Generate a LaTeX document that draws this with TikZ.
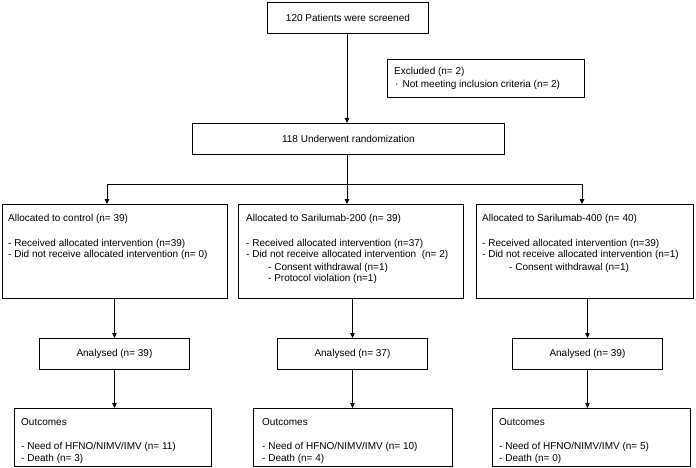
\documentclass[tikz,border=0pt]{standalone}
\usepackage{fontspec}
\setmainfont{Liberation Sans}
\usetikzlibrary{arrows.meta}
\begin{document}
\begin{tikzpicture}[x=1pt,y=-1pt,
  box/.style n args={2}{draw, line width=0.9pt, minimum width=#1, minimum height=#2,
    inner sep=0pt, anchor=north west, font=\fontsize{10}{12}\selectfont},
  txt/.style={anchor=base west, inner sep=0pt, font=\fontsize{10}{12}\selectfont},
  conn/.style={line width=0.9pt},
  arr/.style={line width=0.9pt, -{Triangle[length=5pt,width=4.5pt]}}]
\useasboundingbox (0,0) rectangle (696,468);

% top
\node[box={161}{31}] (screen) at (267,2) {120 Patients were screened};
\node[box={197}{38}] (excl) at (387,59) {};
\node[txt] (exa) at (394,74.5) {Excluded (n= 2)};
\node[txt] (exb) at (395,87.5) {·\hspace{4pt}Not meeting inclusion criteria (n= 2)};
\node[box={312}{31}] (rand) at (192,123) {118 Underwent randomization};

% allocation boxes
\node[box={225}{94}] (c1) at (2,204) {};
\node[box={225}{94}] (c2) at (238,204) {};
\node[box={217}{94}] (c3) at (476,204) {};

\node[txt] (c1h) at (8,221.5) {Allocated to control (n= 39)};
\node[txt] (c1a) at (8,246.5) {- Received allocated intervention (n=39)};
\node[txt] (c1b) at (8,257.5) {- Did not receive allocated intervention (n= 0)};

\node[txt] (c2h) at (246,221.5) {Allocated to Sarilumab-200 (n= 39)};
\node[txt] (c2a) at (246,246.5) {- Received allocated intervention (n=37)};
\node[txt] (c2b) at (246,257.5) {- Did not receive allocated intervention\ \ (n= 2)};
\node[txt] (c2c) at (268,270.5) {- Consent withdrawal (n=1)};
\node[txt] (c2d) at (268,281.5) {- Protocol violation (n=1)};

\node[txt] (c3h) at (482,221.5) {Allocated to Sarilumab-400 (n= 40)};
\node[txt] (c3a) at (482,246.5) {- Received allocated intervention (n=39)};
\node[txt] (c3b) at (482,257.5) {- Did not receive allocated intervention (n=1)};
\node[txt] (c3c) at (509,270.5) {- Consent withdrawal (n=1)};

% analysed
\node[box={150}{31}] (a1) at (39,338) {Analysed (n= 39)};
\node[box={150}{31}] (a2) at (277,338) {Analysed (n= 37)};
\node[box={150}{31}] (a3) at (512,338) {Analysed (n= 39)};

% outcomes
\node[box={197}{58}] (o1) at (14,408) {};
\node[box={199}{58}] (o2) at (253,408) {};
\node[box={198}{58}] (o3) at (492,408) {};

\node[txt] (o1h) at (21,425.5) {Outcomes};
\node[txt] (o1a) at (21,449.5) {- Need of HFNO/NIMV/IMV (n= 11)};
\node[txt] (o1b) at (21,461.5) {- Death (n= 3)};

\node[txt] (o2h) at (262,425.5) {Outcomes};
\node[txt] (o2a) at (262,449.5) {- Need of HFNO/NIMV/IMV (n= 10)};
\node[txt] (o2b) at (262,461.5) {- Death (n= 4)};

\node[txt] (o3h) at (499,425.5) {Outcomes};
\node[txt] (o3a) at (499,449.5) {- Need of HFNO/NIMV/IMV (n= 5)};
\node[txt] (o3b) at (499,461.5) {- Death (n= 0)};

% connectors
\coordinate (hm) at (347,184);
\coordinate (hl) at (107,184);
\coordinate (hr) at (582,184);
\draw[arr] (screen.south -| hm) -- (rand.north -| hm);
\draw[conn] (rand.south -| hm) -- (hm);
\draw[conn] (hl) -- (hr);
\draw[arr] (hl) -- (hl |- c1.north);
\draw[arr] (hm) -- (hm |- c2.north);
\draw[arr] (hr) -- (hr |- c3.north);

\draw[arr] (a1.north |- c1.south) -- (a1.north);
\draw[arr] (a2.north |- c2.south) -- (a2.north);
\draw[arr] (a3.north |- c3.south) -- (a3.north);

\draw[arr] (a1.south) -- (a1.south |- o1.north);
\draw[arr] (a2.south) -- (a2.south |- o2.north);
\draw[arr] (a3.south) -- (a3.south |- o3.north);
\end{tikzpicture}
\end{document}
